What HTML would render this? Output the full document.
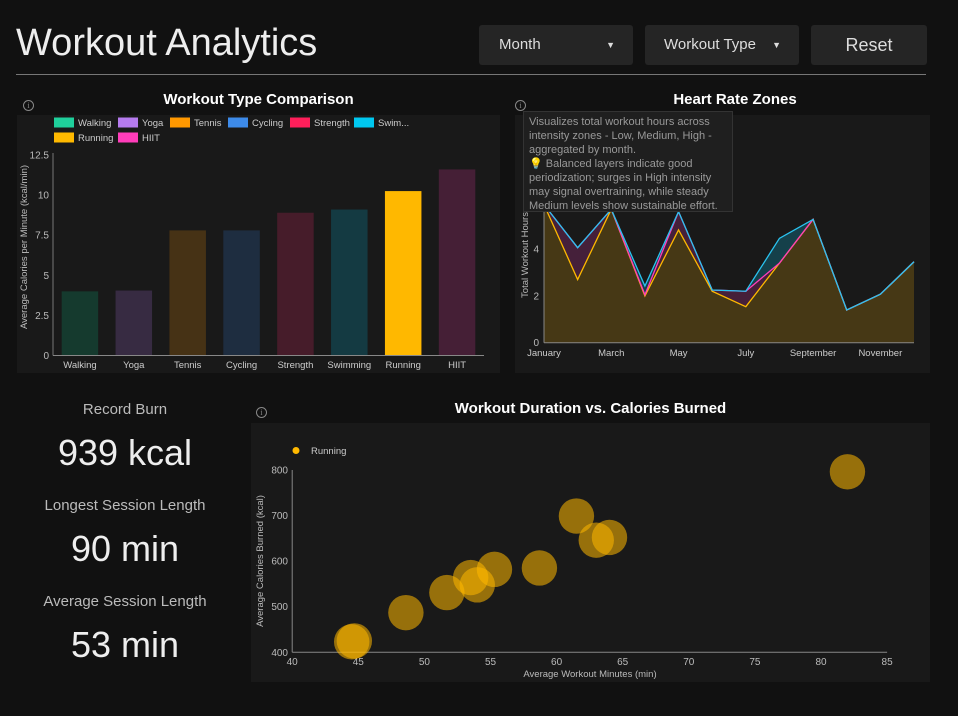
<!DOCTYPE html>
<html><head><meta charset="utf-8">
<style>
body{margin:0;background:#111;width:958px;height:716px;overflow:hidden;font-family:"Liberation Sans",sans-serif;color:#eee;position:relative}
.abs{position:absolute}
.btn{position:absolute;top:25px;height:40px;background:#252525;border-radius:3px;color:#ddd;font-size:15px;line-height:40px}
.ptitle{position:absolute;font-weight:bold;font-size:15px;color:#fff;text-align:center}
.info{position:absolute;width:9px;height:9px;border:1px solid #888;border-radius:50%;font-size:8px;line-height:9px;text-align:center;color:#888;font-family:"Liberation Serif",serif}
.kl{position:absolute;left:0;width:250px;text-align:center;color:#bbb;font-size:15px}
.kv{position:absolute;left:0;width:250px;text-align:center;color:#eee;font-size:36px}
svg text{font-family:"Liberation Sans",sans-serif}
</style></head><body>
<div class="abs" style="left:16px;top:22px;font-size:38px;color:#eee;font-weight:300">Workout Analytics</div>
<div class="btn" style="left:479px;width:154px"><span style="margin-left:20px">Month</span><span style="position:absolute;right:18px;font-size:9px">▼</span></div>
<div class="btn" style="left:645px;width:154px"><span style="margin-left:19px">Workout Type</span><span style="position:absolute;right:18px;font-size:9px">▼</span></div>
<div class="btn" style="left:811px;width:116px;text-align:center;font-size:18px">Reset</div>
<div class="abs" style="left:16px;top:74px;width:910px;height:1px;background:#777"></div>

<div class="abs" style="left:17px;top:115px;width:483px;height:258px;background:#191919"></div>
<div class="ptitle" style="left:17px;top:91px;width:483px">Workout Type Comparison</div>
<div class="info" style="left:23px;top:100px">i</div>
<svg class="abs" id="bar" style="left:0;top:0" width="510" height="380"></svg>

<div class="abs" style="left:515px;top:115px;width:415px;height:258px;background:#191919"></div>
<div class="ptitle" style="left:515px;top:91px;width:440px">Heart Rate Zones</div>
<div class="info" style="left:515px;top:100px">i</div>
<svg class="abs" id="heart" style="left:0;top:0" width="958" height="380"></svg>
<div class="abs" style="left:523px;top:111px;width:198px;height:93px;padding:3px 5px;background:#1f1f1f;border:1px solid #333;color:#999;font-size:11px;line-height:14px">Visualizes total workout hours across intensity zones - Low, Medium, High - aggregated by month.<br>💡 Balanced layers indicate good periodization; surges in High intensity may signal overtraining, while steady Medium levels show sustainable effort.</div>

<div class="kl" style="top:401px">Record Burn</div>
<div class="kv" style="top:432px">939 kcal</div>
<div class="kl" style="top:497px">Longest Session Length</div>
<div class="kv" style="top:528px">90 min</div>
<div class="kl" style="top:593px">Average Session Length</div>
<div class="kv" style="top:624px">53 min</div>

<div class="abs" style="left:251px;top:423px;width:679px;height:259px;background:#191919"></div>
<div class="ptitle" style="left:251px;top:400px;width:679px">Workout Duration vs. Calories Burned</div>
<div class="info" style="left:256px;top:407px">i</div>
<svg class="abs" id="scatter" style="left:0;top:0" width="958" height="716"></svg>

<script>
const NS='http://www.w3.org/2000/svg';
function mk(p,t,a){const e=document.createElementNS(NS,t);for(const k in a)e.setAttribute(k,a[k]);p.appendChild(e);return e;}
// ---- bar chart data
const barCats=['Walking','Yoga','Tennis','Cycling','Strength','Swimming','Running','HIIT'];
const barVals=[4.0,4.05,7.8,7.8,8.9,9.1,10.25,11.6];
const barFill=['#153a2e','#372b42','#463215','#1e2d40','#461c2a','#143a42','#ffb800','#451f36'];
const legendCols=['#1fd09c','#b57bee','#ff9800','#3d8bea','#ff1f5a','#00c8f0','#ffb900','#ff3dba'];
const legendNames=['Walking','Yoga','Tennis','Cycling','Strength','Swim...','Running','HIIT'];
const barTicks=[0,2.5,5,7.5,10,12.5];
(function(){
 const s=document.getElementById('bar');
 const x0=53,x1=484,y0=355.5,y1=155,bw=(x1-x0)/barCats.length;
 const y=v=>y0-(v/12.5)*(y0-y1);
 barTicks.forEach(t=>{const e=mk(s,'text',{x:49,y:y(t)+3.5,'text-anchor':'end','font-size':10,fill:'#bbb'});e.textContent=t;
 });
 mk(s,'line',{x1:x0,x2:x0,y1:y1-2,y2:y0,stroke:'#777'});
 barCats.forEach((c,i)=>{const cx=x0+bw*(i+.5),w=36.5;
  const r=mk(s,'rect',{x:cx-w/2,y:y(barVals[i]),width:w,height:y0-y(barVals[i]),fill:barFill[i]});
  
  const t=mk(s,'text',{x:cx,y:368,'text-anchor':'middle','font-size':9.5,fill:'#ccc'});t.textContent=c;
  });
 mk(s,'line',{x1:x0,x2:x1,y1:y0,y2:y0,stroke:'#888'});
 const yt=mk(s,'text',{transform:'translate(27,247) rotate(-90)','text-anchor':'middle','font-size':9.5,fill:'#bbb'});yt.textContent='Average Calories per Minute (kcal/min)';
 
 const lx=[54,118,170,228,290,354],ly=[122.5,137.5];
 legendNames.forEach((n,i)=>{const row=i<6?0:1,X=row?lx[i-6]:lx[i],Y=ly[row];
  const g=mk(s,'g',{});
  mk(g,'rect',{x:X,y:Y-5,width:20,height:10,fill:legendCols[i]});
  const t=mk(g,'text',{x:X+24,y:Y+3.5,'font-size':9.5,fill:'#ccc'});t.textContent=n;});
})();
// ---- heart rate data
const months=['January','February','March','April','May','June','July','August','September','October','November','December'];
const lowVals=[5.9,2.7,5.7,2.0,4.82,2.2,1.54,3.4,5.27,1.4,2.07,3.46];
const medVals=[0,1.36,0,0.05,0.78,0.05,0.66,0,0,0,0,0];
const highVals=[0,0,0,0.37,0,0,0,1.06,0,0,0,0];
const hrTicks=[0,2,4,6];
(function(){
 const s=document.getElementById('heart');
 const x0=544,x1=914,y0=342.7,k=23.4;
 const x=i=>x0+i*(x1-x0)/(months.length-1),y=v=>y0-v*k;
 const c1=lowVals,c2=lowVals.map((v,i)=>v+medVals[i]),c3=c2.map((v,i)=>v+highVals[i]);
 const pts=a=>a.map((v,i)=>x(i)+','+y(v)).join(' ');
 const area=(top,bot)=>pts(top)+' '+bot.map((v,i)=>[x(i),y(v)]).reverse().map(p=>p.join(',')).join(' ');
 const zero=lowVals.map(()=>0);
 let e=mk(s,'polygon',{points:area(c1,zero),fill:'#463815'});
 e=mk(s,'polygon',{points:area(c2,c1),fill:'#45203a'});
 e=mk(s,'polygon',{points:area(c3,c2),fill:'#15404a'});
 e=mk(s,'polyline',{points:pts(c1),fill:'none',stroke:'#ffb900','stroke-width':1.3});
 e=mk(s,'polyline',{points:pts(c2),fill:'none',stroke:'#ff3dba','stroke-width':1.3});
 e=mk(s,'polyline',{points:pts(c3),fill:'none',stroke:'#2ac3f0','stroke-width':1.3});
 mk(s,'line',{x1:x0,x2:x0,y1:195,y2:y0,stroke:'#888'});
 mk(s,'line',{x1:x0,x2:x1,y1:y0,y2:y0,stroke:'#888'});
 hrTicks.forEach(t=>{const e=mk(s,'text',{x:539,y:y(t)+3.5,'text-anchor':'end','font-size':10,fill:'#bbb'});e.textContent=t;
  });
 months.forEach((m,i)=>{if(i%2)return;const e=mk(s,'text',{x:x(i),y:356,'text-anchor':'middle','font-size':9.5,fill:'#ccc'});e.textContent=m;
  });
 const t=mk(s,'text',{transform:'translate(528,255) rotate(-90)','text-anchor':'middle','font-size':9.5,fill:'#bbb'});t.textContent='Total Workout Hours';
 
})();
// ---- scatter data
const durMin=[82,61.5,63,64,58.7,55.3,53.5,54,51.7,48.6,44.5,44.7];
const calKcal=[796,699,646,652,585,582,564,548,531,487,423,425];
const xTicks=[40,45,50,55,60,65,70,75,80,85];
const yTicks=[400,500,600,700,800];
(function(){
 const s=document.getElementById('scatter');
 const X=v=>292.2+(v-40)*13.22,Y=v=>652.3-(v-400)*0.4558;
 xTicks.forEach(t=>{const e=mk(s,'text',{x:X(t),y:665,'text-anchor':'middle','font-size':10,fill:'#bbb'});e.textContent=t;
  });
 yTicks.forEach(t=>{const e=mk(s,'text',{x:288,y:Y(t)+3.5,'text-anchor':'end','font-size':10,fill:'#bbb'});e.textContent=t;
  });
 mk(s,'line',{x1:X(40),x2:X(40),y1:470,y2:652.3,stroke:'#888'});
 mk(s,'line',{x1:X(40),x2:X(85),y1:652.3,y2:652.3,stroke:'#888'});
 durMin.forEach((d,i)=>{const e=mk(s,'circle',{cx:X(d),cy:Y(calKcal[i]),r:17.7,fill:'rgba(255,184,0,0.55)'});
  });
 let e=mk(s,'text',{x:590,y:677,'text-anchor':'middle','font-size':9.5,fill:'#bbb'});e.textContent='Average Workout Minutes (min)';
 
 e=mk(s,'text',{transform:'translate(263,561) rotate(-90)','text-anchor':'middle','font-size':9.5,fill:'#bbb'});e.textContent='Average Calories Burned (kcal)';
 
 const g=mk(s,'g',{});
 mk(g,'circle',{cx:296,cy:450.5,r:3.5,fill:'#ffb900'});
 e=mk(g,'text',{x:311,y:454,'font-size':9.5,fill:'#ccc'});e.textContent='Running';
})();
</script>
</body></html>
